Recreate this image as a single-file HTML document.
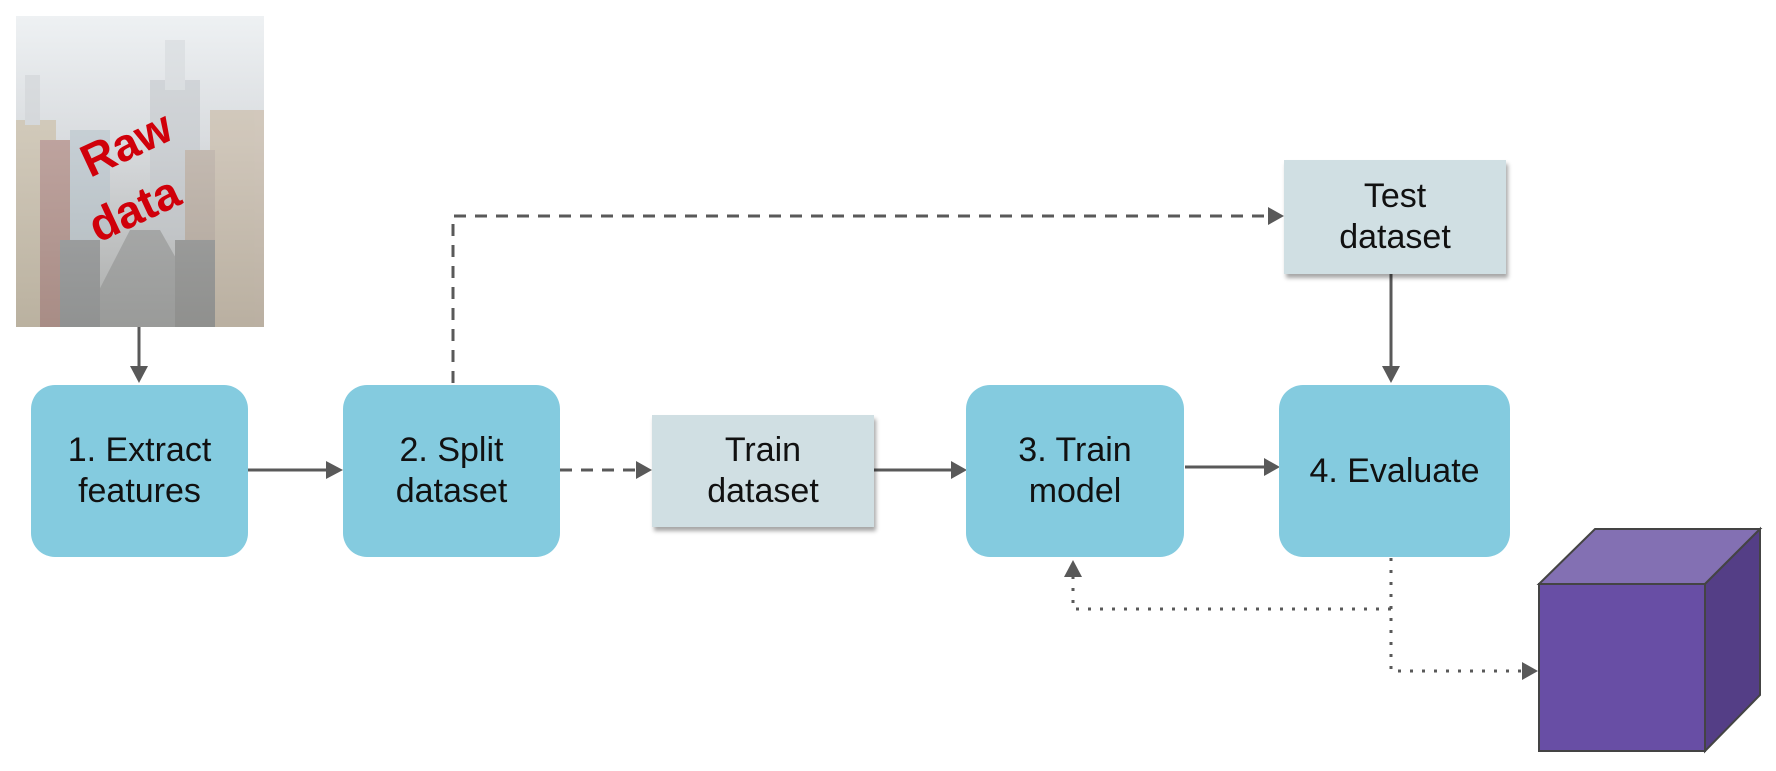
<!DOCTYPE html>
<html><head><meta charset="utf-8"><style>
body{margin:0;width:1776px;height:771px;background:#fff;position:relative;overflow:hidden;font-family:"Liberation Sans",sans-serif;}
.b{position:absolute;background:#84cbdf;border-radius:24px;display:flex;align-items:center;justify-content:center;text-align:center;font-size:34px;line-height:41px;color:#111;}
.g{position:absolute;background:#d0dfe3;box-shadow:2px 4px 4px rgba(0,0,0,0.35);display:flex;align-items:center;justify-content:center;text-align:center;font-size:34px;line-height:41px;color:#111;}
</style></head><body>
<svg width="1776" height="771" style="position:absolute;left:0;top:0">
<defs>
<linearGradient id="sky" x1="0" y1="0" x2="0" y2="1"><stop offset="0" stop-color="#eef1f3"/><stop offset="0.4" stop-color="#d9dcdf"/><stop offset="1" stop-color="#a9aaa8"/></linearGradient>
</defs>
<rect x="16" y="16" width="248" height="311" fill="url(#sky)"/>
<g opacity="0.55">
<rect x="16" y="120" width="40" height="207" fill="#c9b89a"/>
<rect x="40" y="140" width="30" height="187" fill="#a8756a"/>
<rect x="70" y="130" width="40" height="110" fill="#b7c4cc"/>
<rect x="150" y="80" width="50" height="160" fill="#c3c7cb"/>
<rect x="165" y="40" width="20" height="50" fill="#d5d9dc"/>
<rect x="25" y="75" width="15" height="50" fill="#d0d3d6"/>
<rect x="210" y="110" width="54" height="217" fill="#c8b59c"/>
<rect x="185" y="150" width="30" height="177" fill="#b4a08e"/>
<polygon points="80,327 130,230 160,230 215,327" fill="#8e8f8e"/>
<rect x="60" y="240" width="40" height="87" fill="#7d7f80"/>
<rect x="175" y="240" width="40" height="87" fill="#7b7b79"/>
</g>
<text x="0" y="0" transform="translate(90,178) rotate(-25)" font-size="46" font-weight="bold" fill="#d0000a" font-family="Liberation Sans,sans-serif">Raw</text>
<text x="0" y="0" transform="translate(98,243) rotate(-25)" font-size="46" font-weight="bold" fill="#d0000a" font-family="Liberation Sans,sans-serif">data</text>
<g stroke="#595959" stroke-width="3" fill="none">
<line x1="139" y1="327" x2="139" y2="368"/>
<line x1="248" y1="470" x2="328" y2="470"/>
<line x1="560" y1="470" x2="638" y2="470" stroke-dasharray="12,9"/>
<line x1="874" y1="470" x2="953" y2="470"/>
<line x1="1185" y1="467" x2="1266" y2="467"/>
<polyline points="453,383 453,216 1270,216" stroke-dasharray="12,9"/>
<line x1="1391" y1="274" x2="1391" y2="368"/>
<polyline points="1391,558 1391,671 1524,671" stroke-dasharray="3,9" stroke-width="3"/>
<polyline points="1391,609 1073,609 1073,574" stroke-dasharray="3,9" stroke-width="3"/>
</g>
<g fill="#595959">
<polygon points="130,366 148,366 139,383"/>
<polygon points="326,461 326,479 343,470"/>
<polygon points="636,461 636,479 652,470"/>
<polygon points="951,461 951,479 967,470"/>
<polygon points="1264,458 1264,476 1280,467"/>
<polygon points="1268,207 1268,225 1284,216"/>
<polygon points="1382,366 1400,366 1391,383"/>
<polygon points="1522,662 1522,680 1538,671"/>
<polygon points="1064,577 1082,577 1073,560"/>
</g>
<polygon points="1539,584 1595,529 1760,529 1705,584" fill="#8370b3" stroke="#444" stroke-width="2"/>
<polygon points="1705,584 1760,529 1760,695 1705,751" fill="#543e86" stroke="#444" stroke-width="2"/>
<rect x="1539" y="584" width="166" height="167" fill="#684ea5" stroke="#444" stroke-width="2"/>
</svg>
<div class="b" style="left:31px;top:385px;width:217px;height:172px">1. Extract<br>features</div>
<div class="b" style="left:343px;top:385px;width:217px;height:172px">2. Split<br>dataset</div>
<div class="g" style="left:652px;top:415px;width:222px;height:112px">Train<br>dataset</div>
<div class="b" style="left:966px;top:385px;width:218px;height:172px">3. Train<br>model</div>
<div class="b" style="left:1279px;top:385px;width:231px;height:172px">4. Evaluate</div>
<div class="g" style="left:1284px;top:160px;width:222px;height:114px">Test<br>dataset</div>
</body></html>
